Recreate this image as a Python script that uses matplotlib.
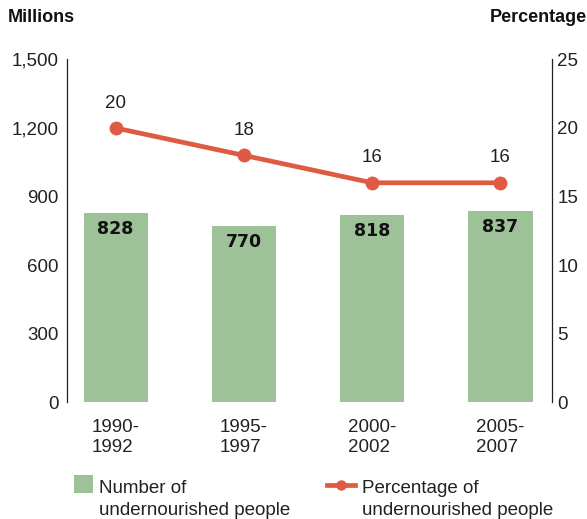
import numpy as np
import matplotlib.pyplot as plt
from matplotlib.lines import Line2D
from matplotlib.patches import Rectangle

plt.rcParams['font.family'] = ['Liberation Sans', 'DejaVu Sans']

# ── data ──────────────────────────────────────────────────────────────────────
periods = ["1990-\n1992", "1995-\n1997", "2000-\n2002", "2005-\n2007"]
millions = [828, 770, 818, 837]
percentage = [20, 18, 16, 16]
left_ticks = [0, 300, 600, 900, 1200, 1500]
right_ticks = [0, 5, 10, 15, 20, 25]

# ── colours ───────────────────────────────────────────────────────────────────
BAR_COL = "#9dc297"
LINE_COL = "#df5a43"
TEXT_COL = "#222222"
FS = 13.5

fig = plt.figure(figsize=(5.87, 5.19), dpi=100)
ax = fig.add_axes([0.114, 0.2254, 0.826, 0.660])
ax2 = ax.twinx()

x = np.arange(len(periods))
ax.bar(x, millions, width=0.5, color=BAR_COL, zorder=1)
for xi, v in zip(x, millions):
    ax.text(xi, v - 70, f"{v}", ha="center", va="center", fontsize=12.5,
            fontweight="bold", color="#111111", family="DejaVu Sans")

ax2.plot(x, percentage, color=LINE_COL, linewidth=3.4, marker="o",
         markersize=9, zorder=5)
for xi, v in zip(x, percentage):
    ax2.text(xi, v + 1.2, f"{v}", ha="center", va="bottom", fontsize=FS,
             color=TEXT_COL)

ax.set_xlim(-0.38, 3.40)
ax.set_ylim(0, 1500)
ax2.set_ylim(0, 25)
ax.set_yticks(left_ticks)
ax.set_yticklabels([f"{t:,}" for t in left_ticks])
ax2.set_yticks(right_ticks)
ax.set_xticks(x)
ax.set_xticklabels(periods)

for a in (ax, ax2):
    for s in a.spines.values():
        s.set_visible(False)
    a.tick_params(length=0, labelsize=FS, colors=TEXT_COL)
ax.spines["left"].set_visible(True)
ax.spines["left"].set_color(TEXT_COL)
ax.spines["left"].set_linewidth(0.9)
ax2.spines["right"].set_visible(True)
ax2.spines["right"].set_color(TEXT_COL)
ax2.spines["right"].set_linewidth(0.9)
ax.tick_params(axis="y", pad=6)
ax2.tick_params(axis="y", pad=4)
ax.tick_params(axis="x", pad=12)
for lbl in ax.get_xticklabels():
    lbl.set_linespacing(1.25)
    lbl.set_multialignment("left")

# ── axis titles ───────────────────────────────────────────────────────────────
fig.text(8 / 587, 1 - 18 / 519, "Millions", fontsize=13, fontweight="bold",
         ha="left", va="center", color="#111111")
fig.text(1.0, 1 - 18 / 519, "Percentage", fontsize=13, fontweight="bold",
         ha="right", va="center", color="#111111")

# ── legend (drawn by hand) ────────────────────────────────────────────────────
fig.add_artist(Rectangle((74 / 587, 1 - 493 / 519), 19 / 587, 18 / 519,
                         transform=fig.transFigure, facecolor=BAR_COL,
                         edgecolor="none"))
fig.text(99 / 587, 1 - 480 / 519, "Number of\nundernourished people",
         fontsize=FS, ha="left", va="top", color=TEXT_COL, linespacing=1.35)

ly = 1 - 485 / 519
fig.add_artist(Line2D([327 / 587, 355 / 587], [ly, ly], transform=fig.transFigure,
                      color=LINE_COL, linewidth=3.4))
fig.add_artist(Line2D([341 / 587], [ly], transform=fig.transFigure,
                      color=LINE_COL, marker="o", markersize=6.5))
fig.text(362 / 587, 1 - 480 / 519, "Percentage of\nundernourished people",
         fontsize=FS, ha="left", va="top", color=TEXT_COL, linespacing=1.35)

fig.savefig("out.png", dpi=100)
